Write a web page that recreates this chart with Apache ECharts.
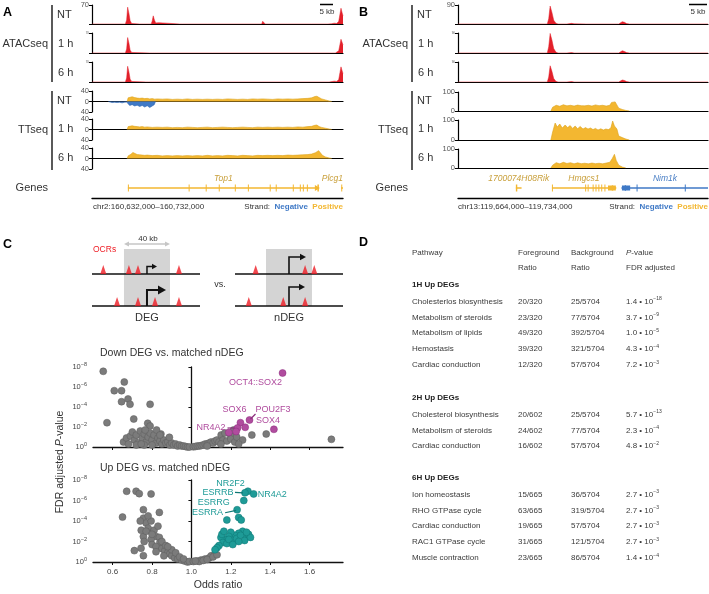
<!DOCTYPE html>
<html><head><meta charset="utf-8">
<script src="https://cdn.jsdelivr.net/npm/echarts@6/dist/echarts.min.js"></script>
<style>html,body{margin:0;padding:0;background:#fff}#c{width:709px;height:594px}</style>
</head><body><div id="c"></div>
<script>
// ================= DATA =================
// Panel A (kb from chr2:160,632,000)
const atacA_NT = [[0,0],[3,0],[3.5,1],[4.5,0],[13.3,0],[13.8,15],[14.2,62],[14.7,40],[15.2,12],[15.8,2],[16.5,0],[19,0],[19.5,2],[20.5,0],[21.3,0],[21.6,3],[22,0],[23.6,0],[24,12],[24.4,30],[24.9,14],[25.4,4],[26,9],[26.5,5],[27.2,0],[35,0],[35.5,1],[36,0],[46,0],[46.5,1],[47,0],[67.6,0],[68,10],[68.5,4],[69,0],[77,0],[77.5,1],[78,0],[86.5,0],[87,2],[87.5,0],[94,0],[94.5,2],[95.5,1],[96.5,3],[97.5,2],[98.3,10],[99.2,58],[99.7,40],[100,30]];
const atacA_1h = [[0,0],[13.3,0],[13.8,14],[14.2,54],[14.7,35],[15.2,10],[15.8,2],[16.5,0],[23,0],[23.5,2],[24,0],[24.5,3],[25,0],[25.8,0],[26.2,6],[26.7,0],[47,0],[47.5,1],[48,0],[67.6,0],[68,5],[68.5,0],[86.5,0],[87,1],[87.5,0],[94.5,0],[95,2],[95.5,0],[97,0],[97.5,3],[98.3,8],[99.2,48],[99.7,36],[100,28]];
const atacA_6h = [[0,0],[13.3,0],[13.8,14],[14.2,55],[14.7,36],[15.2,10],[15.8,2],[16.5,0],[21.5,0],[22,2],[22.5,0],[24,0],[24.4,3],[24.8,0],[25.8,0],[26.2,5],[26.7,0],[67.6,0],[68,5],[68.5,0],[94.5,0],[95,2],[96.5,3],[97.5,2],[98.3,9],[99.2,53],[99.7,38],[100,30]];
const ttA_NT_pos = [[14,0],[14.4,14],[15,21],[16,18],[17,15],[18,13],[19,12],[20,13],[21,11],[22,12],[23,10],[24,11],[25,9],[26,10],[28,9],[30,10],[32,8],[34,9],[36,8],[38,10],[40,8],[42,9],[44,8],[46,9],[48,8],[50,9],[52,8],[54,10],[56,9],[58,8],[60,9],[62,8],[64,10],[66,9],[68,10],[70,9],[72,8],[74,10],[76,9],[78,10],[80,9],[82,10],[84,11],[86,12],[87.5,14],[88.8,19],[89.6,20],[90.5,15],[91.5,10],[93,6],[94.5,2],[95.5,0]];
const ttA_NT_neg = [[6.5,0],[7,-3],[8,-4],[9,-3],[10,-4],[11,-3],[12,-5],[13,-3],[13.8,-2],[14.2,-9],[15,-15],[16,-12],[17,-17],[18,-14],[19,-19],[20,-15],[21,-21],[22,-16],[23,-23],[24,-17],[24.8,-12],[25.3,0]];
const ttA_1h_pos = [[14,0],[14.4,11],[15,16],[16,14],[17,12],[18,11],[19,10],[20,11],[21,9],[22,10],[24,8],[26,9],[28,8],[30,9],[32,7],[34,8],[36,7],[38,9],[40,8],[42,7],[44,8],[46,9],[48,7],[50,8],[52,9],[54,8],[56,7],[58,8],[60,9],[62,8],[64,7],[66,9],[68,8],[70,9],[72,8],[74,9],[76,8],[78,9],[80,8],[82,10],[84,9],[86,11],[87.5,12],[88.8,16],[89.6,17],[90.5,11],[91.5,8],[93,5],[94.5,2],[95.5,0]];
const ttA_6h_pos = [[14,0],[14.4,10],[15.5,16],[16.3,23],[17,18],[18,15],[19,14],[20,13],[21,12],[22,13],[24,11],[26,12],[28,10],[30,11],[32,10],[34,11],[36,10],[38,11],[40,10],[42,11],[44,10],[46,12],[48,10],[50,11],[52,10],[54,12],[56,11],[58,10],[60,12],[62,11],[64,10],[66,12],[68,11],[70,12],[72,11],[74,12],[76,11],[78,13],[80,12],[82,13],[84,14],[86,15],[87.5,17],[89,22],[90.3,30],[91,25],[91.8,12],[93,6],[94.5,2],[95.5,0]];
const geneNamesA = ['Top1','Plcg1'];
const geneStartA = [14.3, 99.2];
const geneEndA = [90.4, 100];
const geneStrandA = [1, 1];
const exonsA = [[[14.3,14.7],[38.5,38.7],[45.3,45.5],[50.5,50.7],[56.9,57.1],[62.1,62.3],[70.8,71.0],[73.2,73.4],[80.0,80.2],[82.8,83.0],[84.0,84.2],[85.6,85.8],[89.8,90.4]],[[99.3,99.6]]];

// Panel B (kb from chr13:119,664,000)
const atacB_NT = [[0,0],[25,0],[25.4,25],[25.8,85],[26.3,55],[26.8,18],[27.4,4],[28,0],[30.5,0],[31,2],[31.8,3],[32.5,1],[33,0],[36,0],[36.5,1],[37,0],[45,0],[45.5,6],[46,11],[46.6,8],[47.2,2],[48,0],[52,0],[52.5,1],[53,0],[64.5,0],[65,4],[65.5,0],[70,0]];
const atacB_1h = [[0,0],[25,0],[25.4,28],[25.8,88],[26.3,58],[26.8,20],[27.4,4],[28,0],[30.5,0],[31,2],[31.8,2],[32.5,0],[45,0],[45.5,6],[46,10],[46.6,7],[47.2,2],[48,0],[65,0],[65.5,2],[66,0],[70,0]];
const atacB_6h = [[0,0],[25,0],[25.4,22],[25.8,73],[26.3,48],[26.8,16],[27.4,3],[28,0],[30.5,0],[31,2],[31.8,2],[32.5,0],[45,0],[45.5,5],[46,9],[46.6,7],[47.2,2],[48,0],[65,0],[65.5,3],[66,0],[70,0]];
const ttB_NT = [[26,0],[26.5,20],[27.5,30],[28.5,25],[29.5,33],[30.5,27],[31.5,30],[32.5,26],[33.5,31],[34.5,28],[35.5,27],[36.5,30],[37.5,26],[38.5,32],[39.5,28],[40.5,30],[41.5,26],[42.5,30],[43,45],[44,48],[44.5,45],[45,15],[46,8],[47,3],[48,0]];
const ttB_1h = [[26,0],[26.5,40],[27.2,85],[27.8,65],[28.5,80],[29.2,60],[30,75],[30.7,62],[31.4,72],[32.1,58],[32.8,70],[33.5,56],[34.2,68],[35,55],[35.7,62],[36.4,55],[37.1,60],[37.8,52],[38.5,58],[39.2,50],[40,56],[40.7,50],[41.4,55],[42.1,52],[42.8,60],[43.3,95],[43.8,70],[44.5,55],[45,20],[46,12],[47,5],[48,0]];
const ttB_6h = [[26,0],[26.5,15],[27.5,28],[28.5,22],[29.5,30],[30.5,24],[31.5,28],[32.5,22],[33.5,27],[34.5,23],[35.5,25],[36.5,22],[37.5,26],[38.5,23],[39.5,25],[40.5,22],[41.5,26],[42.5,30],[43.2,50],[43.8,72],[44.3,40],[45,15],[46,5],[47,0]];
const geneNamesB = ['1700074H08Rik','Hmgcs1','Nim1k'];
const geneStartB = [16.2, 26.3, 45.9];
const geneEndB = [17.8, 44.2, 70];
const geneStrandB = [1, 1, -1];
const exonsB = [[[16.2,16.6]],[[26.3,26.5],[35.6,35.8],[36.3,36.5],[37.7,37.9],[38.5,38.7],[39.3,39.5],[40.1,40.3],[41.0,41.2],[42.0,44.2]],[[45.9,48.2],[50.0,50.2],[63.5,63.7]]];

// Panel C schematic (kb relative to TSS)
const ocrWindow = [-20, 20];
const degOcrTop = [-38, -15.7, -7.8, 27.8];
const degOcrBottom = [-26, -7.8, 7, 27.8];
const ndegOcrTop = [-29, 14, 22];
const ndegOcrBottom = [-35, -5, 14];

// Panel C volcano plots: [odds ratio, -log10 FDR]
const downGray = [[0.552,7.57],[0.571,2.43],[0.608,5.63],[0.645,5.63],[0.659,6.5],[0.645,4.53],[0.678,4.8],[0.688,4.27],[0.707,2.8],[0.79,4.27],[0.778,2.37],[0.79,2.1],
 [0.655,0.5],[0.67,0.9],[0.69,1.1],[0.70,1.5],[0.71,0.7],[0.72,1.2],[0.73,0.4],[0.74,1.6],[0.75,0.9],[0.76,1.3],[0.77,0.5],[0.78,1.0],[0.79,1.4],[0.80,0.7],[0.81,1.2],[0.82,0.4],[0.83,0.9],[0.84,0.6],[0.85,0.3],[0.86,0.7],[0.87,0.4],[0.88,0.5],[0.89,0.2],[0.90,0.4],[0.91,0.2],[0.92,0.3],[0.93,0.1],[0.94,0.2],[0.95,0.1],[0.96,0.1],[0.97,0.05],[0.98,0.0],[0.99,0.0],[0.68,0.3],[0.72,0.2],[0.76,0.2],[0.80,0.2],[0.845,1.3],[0.823,1.7],[0.765,1.7],[0.745,0.3],[0.888,0.97],[0.84,1.2],
 [1.01,0.02],[1.02,0.05],[1.03,0.1],[1.04,0.1],[1.05,0.15],[1.06,0.2],[1.07,0.3],[1.08,0.3],[1.09,0.4],[1.10,0.5],[1.11,0.4],[1.12,0.6],[1.13,0.7],[1.14,0.5],[1.151,1.2],[1.16,0.7],[1.17,1.4],[1.18,0.6],[1.2,1.1],[1.20,0.8],[1.214,1.7],[1.22,0.5],[1.23,1.0],[1.26,0.7],[1.307,1.2],[1.38,1.3],[1.711,0.77],[1.24,0.3],[1.15,0.3],[1.08,0.1]];
const downPurple = [[1.463,7.4],[1.419,1.77],[1.295,2.7],[1.249,2.43],[1.234,1.9],[1.273,1.97],[1.227,1.55],[1.19,1.45]];
const downLabelNames = ['OCT4::SOX2','SOX6','POU2F3','SOX4','NR4A2'];
const downLabelPoints = [[1.463,7.4],[1.249,2.43],[1.295,2.7],[1.419,1.77],[1.234,1.9]];
const upGray = [[0.65,4.38],[0.671,6.9],[0.719,6.9],[0.735,6.67],[0.795,6.64],[0.756,5.1],[0.837,4.84],[0.71,1.11],[0.744,1.34],[0.756,0.62],[0.756,2.48],
 [0.756,4.28],[0.77,3.8],[0.795,4.0],[0.78,3.3],[0.81,3.1],[0.745,3.1],[0.77,3.0],[0.82,2.5],[0.795,2.2],[0.837,2.4],[0.84,1.9],[0.80,1.7],[0.82,1.5],[0.85,1.3],[0.865,1.1],[0.88,0.9],[0.89,0.8],[0.90,0.6],[0.915,0.4],[0.93,0.3],[0.95,0.2],[0.965,0.1],[0.98,0.0],[0.76,2.0],[0.80,2.7],[0.83,3.5],[0.78,4.5],[0.74,4.0],[0.85,2.0],[0.87,1.6],[0.82,1.0],[0.86,0.6],[0.90,1.2],[0.88,1.5],[0.92,0.9],[0.94,0.5],[0.96,0.3],[0.99,0.05],
 [1.01,0.05],[1.03,0.1],[1.05,0.2],[1.07,0.3],[1.09,0.4],[1.10,0.6],[1.12,0.8],[1.04,0.05],[1.06,0.15],[1.08,0.25],[1.11,0.5],[1.13,0.7],[1.02,0.1]];
const upTeal = [[1.287,6.9],[1.272,6.75],[1.316,6.64],[1.266,6.0],[1.232,5.1],[1.18,4.1],[1.24,4.35],[1.253,4.1],
 [1.278,2.48],[1.26,3.0],[1.24,2.8],[1.22,2.6],[1.2,2.9],[1.19,2.5],[1.17,2.2],[1.15,2.4],[1.16,1.9],[1.14,1.6],[1.13,1.4],[1.12,1.2],[1.18,1.8],[1.21,2.1],[1.23,2.3],[1.25,2.6],[1.27,2.1],[1.29,2.7],[1.30,2.4],[1.24,2.0],[1.155,2.7],[1.165,3.0],[1.19,2.2],[1.21,1.7],[1.28,2.9]];
const upLabelNames = ['NR2F2','ESRRB','NR4A2','ESRRG','ESRRA'];
const upLabelPoints = [[1.287,6.9],[1.272,6.75],[1.316,6.64],[1.266,6.0],[1.232,5.1]];
const oddsTicks = [0.6,0.8,1.0,1.2,1.4,1.6];

// Panel D table
const groupTitles = ['1H Up DEGs','2H Up DEGs','6H Up DEGs'];
const pathways = [['Cholesterlos biosynthesis','Metabolism of steroids','Metabolism of lipids','Hemostasis','Cardiac conduction'],
  ['Cholesterol biosynthesis','Metabolism of steroids','Cardiac conduction'],
  ['Ion homeostasis','RHO GTPase cycle','Cardiac conduction','RAC1 GTPase cycle','Muscle contraction']];
const fgRatio = [['20/320','23/320','49/320','39/320','12/320'],['20/602','24/602','16/602'],['15/665','63/665','19/665','31/665','23/665']];
const bgRatio = [['25/5704','77/5704','392/5704','321/5704','57/5704'],['25/5704','77/5704','57/5704'],['36/5704','319/5704','57/5704','121/5704','86/5704']];
const pMant = [['1.4','3.7','1.0','4.3','7.2'],['5.7','2.3','4.8'],['2.7','2.7','2.7','2.7','1.4']];
const pExp = [[-18,-9,-5,-4,-3],[-13,-4,-2],[-3,-3,-3,-3,-4]];

// ================= STYLE / LAYOUT =================
const FONT = "'Liberation Sans', Arial, Helvetica, sans-serif";
const RED = '#e3202a', GOLD = '#f3b731', GOLD_EDGE = '#dca21c', BLUE = '#3f79c6', GENE_GOLD = '#c9a03c';
const PURPLE = '#b04c9e', TEAL = '#1e9b97';
const grids = [], xAxes = [], yAxes = [], series = [], graphics = [];
function addGrid(g, xa, ya) {
  grids.push(g); const gi = grids.length - 1;
  xa.gridIndex = gi; ya.gridIndex = gi; xAxes.push(xa); yAxes.push(ya);
  return { x: xAxes.length - 1, y: yAxes.length - 1, g: gi };
}
const hiddenAxis = (min, max) => ({ type: 'value', min, max, show: false });
function font(size, weight, style) { return (style || 'normal') + ' ' + (weight || 'normal') + ' ' + size + 'px ' + FONT; }
function txt(x, y, text, o) {
  o = o || {};
  return { type: 'text', silent: true, x: x, y: y, rotation: o.rot || 0, z: 100,
    style: { x: 0, y: 0, text: text, fill: o.fill || '#333', font: font(o.size || 11, o.weight, o.style),
      textAlign: o.align || 'left', textVerticalAlign: 'middle', rich: o.rich } };
}
function line(x1, y1, x2, y2, color, w) {
  return { type: 'line', silent: true, z: 100, shape: { x1, y1, x2, y2 }, style: { stroke: color || '#000', lineWidth: w || 1.2 } };
}
const axLine = { show: true, lineStyle: { color: '#000', width: 1.2 } };

function atacTrack(left, top, width, height, xmax, ymax, lblSize, data) {
  const ax = addGrid({ left, top, width, height },
    { type: 'value', min: 0, max: xmax, axisLine: axLine, axisTick: { show: false }, axisLabel: { show: false }, splitLine: { show: false } },
    { type: 'value', min: 0, max: ymax, interval: ymax, axisLine: axLine, axisTick: { show: true, length: 3, lineStyle: { color: '#000' } },
      axisLabel: { show: true, fontSize: lblSize, color: '#555', margin: 3, formatter: v => v === ymax ? String(ymax) : '' }, splitLine: { show: false } });
  series.push({ type: 'line', xAxisIndex: ax.x, yAxisIndex: ax.y, data, symbol: 'none', silent: true,
    lineStyle: { width: 0.5, color: RED }, areaStyle: { color: RED, opacity: 1 } });
}
function ttTrack(left, top, width, height, xmax, ymin, ymax, interval, pos, neg) {
  const ax = addGrid({ left, top, width, height },
    { type: 'value', min: 0, max: xmax, axisLine: Object.assign({ onZero: true }, axLine), axisTick: { show: false }, axisLabel: { show: false }, splitLine: { show: false } },
    { type: 'value', min: ymin, max: ymax, interval, axisLine: axLine, axisTick: { show: true, length: 3, lineStyle: { color: '#000' } },
      axisLabel: { show: true, fontSize: 7.5, color: '#555', margin: 3, formatter: v => String(Math.abs(v)) }, splitLine: { show: false } });
  series.push({ type: 'line', xAxisIndex: ax.x, yAxisIndex: ax.y, data: pos, symbol: 'none', silent: true, z: 3,
    lineStyle: { width: 0.6, color: GOLD_EDGE }, areaStyle: { color: GOLD, opacity: 1 } });
  if (neg) series.push({ type: 'line', xAxisIndex: ax.x, yAxisIndex: ax.y, data: neg, symbol: 'none', silent: true, z: 3,
    lineStyle: { width: 0.6, color: '#2f66b0' }, areaStyle: { color: BLUE, opacity: 1 } });
}
function geneTrack(left, top, width, height, xmax, names, starts, ends, strands, exons) {
  const ax = addGrid({ left, top, width, height },
    { type: 'value', min: 0, max: xmax, axisLine: { show: true, lineStyle: { color: '#000', width: 1.4 } }, axisTick: { show: false }, axisLabel: { show: false }, splitLine: { show: false } },
    { type: 'value', min: 0, max: 1, show: false });
  series.push({ type: 'custom', xAxisIndex: ax.x, yAxisIndex: ax.y, silent: true, clip: false,
    data: names.map((n, i) => [starts[i], ends[i], i]),
    renderItem: function (params, api) {
      const i = params.dataIndex;
      const col = strands[i] > 0 ? GOLD : BLUE;
      const tcol = strands[i] > 0 ? GENE_GOLD : '#4a7fc5';
      const s = api.coord([starts[i], 0.5]), e = api.coord([ends[i], 0.5]);
      const ch = [{ type: 'line', shape: { x1: s[0], y1: s[1], x2: e[0], y2: e[1] }, style: { stroke: col, lineWidth: 1.5 } }];
      exons[i].forEach(ex => {
        const a = api.coord([ex[0], 0.5]), b = api.coord([ex[1], 0.5]);
        const w = Math.max(1, b[0] - a[0]);
        const h = w > 2 ? 5 : 7;
        ch.push({ type: 'rect', shape: { x: a[0], y: a[1] - h / 2, width: w, height: h }, style: { fill: col } });
      });
      if (ends[i] - starts[i] > 5) {
        if (strands[i] > 0) ch.push({ type: 'polygon', shape: { points: [[e[0] + 1, e[1]], [e[0] - 4, e[1] - 3], [e[0] - 4, e[1] + 3]] }, style: { fill: col } });
        else ch.push({ type: 'polygon', shape: { points: [[s[0] - 1, s[1]], [s[0] + 4, s[1] - 3], [s[0] + 4, s[1] + 3]] }, style: { fill: col } });
      }
      const gridRight = api.coord([xmax, 0])[0];
      const nearEdge = ends[i] >= xmax - 1.5 && (ends[i] - starts[i]) < 3;
      ch.push({ type: 'text', style: { text: names[i], x: nearEdge ? gridRight : (s[0] + e[0]) / 2, y: s[1] - 9,
        fill: tcol, font: font(8.5, 'normal', 'italic'), textAlign: nearEdge ? 'right' : 'center', textVerticalAlign: 'middle' } });
      return { type: 'group', children: ch };
    } });
}

// ---- Panel A tracks ----
atacTrack(92, 5, 251, 19, 100, 70, 7.5, atacA_NT);
atacTrack(92, 33, 251, 20, 100, 70, 3, atacA_1h);
atacTrack(92, 62, 251, 20, 100, 70, 3, atacA_6h);
ttTrack(92, 91, 251, 21, 100, -40, 40, 40, ttA_NT_pos, ttA_NT_neg);
ttTrack(92, 119, 251, 21, 100, -40, 40, 40, ttA_1h_pos, null);
ttTrack(92, 148, 251, 21, 100, -40, 40, 40, ttA_6h_pos, null);
geneTrack(92, 178, 251, 20, 100, geneNamesA, geneStartA, geneEndA, geneStrandA, exonsA);
// ---- Panel B tracks ----
atacTrack(458, 5, 250, 19, 70, 90, 7.5, atacB_NT);
atacTrack(458, 33, 250, 20, 70, 90, 3, atacB_1h);
atacTrack(458, 62, 250, 20, 70, 90, 3, atacB_6h);
ttTrack(458, 92, 250, 19, 70, 0, 100, 100, ttB_NT, null);
ttTrack(458, 120, 250, 20, 70, 0, 100, 100, ttB_1h, null);
ttTrack(458, 149, 250, 19, 70, 0, 100, 100, ttB_6h, null);
geneTrack(458, 178, 250, 20, 70, geneNamesB, geneStartB, geneEndB, geneStrandB, exonsB);

// ---- Panel C schematic ----
const SCH_YMAX = 57 / 32;
const tssArrowSizes = { deg: [{ h: 7.5, len: 10, head: 5, w: 1.5 }, { h: 16, len: 19, head: 8, w: 2 }],
                        ndeg: [{ h: 17, len: 17, head: 6, w: 1.6 }, { h: 19, len: 16, head: 6, w: 1.6 }] };
function schematic(left, xmin, xmax, ocrTop, ocrBottom, sizes, showScale) {
  const ax = addGrid({ left, top: 249, width: 108, height: 57 }, hiddenAxis(xmin, xmax), hiddenAxis(0, SCH_YMAX));
  series.push({ type: 'custom', xAxisIndex: ax.x, yAxisIndex: ax.y, silent: true, clip: false, z: 1,
    data: [ocrWindow], renderItem: function (params, api) {
      const a = api.coord([ocrWindow[0], 0]), b = api.coord([ocrWindow[1], SCH_YMAX]);
      const ch = [{ type: 'rect', shape: { x: a[0], y: b[1], width: b[0] - a[0], height: a[1] - b[1] }, style: { fill: '#d4d4d4' } }];
      if (showScale) {
        const y = b[1] - 5, c = '#c6c6c6';
        ch.push({ type: 'line', shape: { x1: a[0] + 2, y1: y, x2: b[0] - 2, y2: y }, style: { stroke: c, lineWidth: 1.3 } });
        ch.push({ type: 'polygon', shape: { points: [[a[0], y], [a[0] + 5, y - 2.5], [a[0] + 5, y + 2.5]] }, style: { fill: c } });
        ch.push({ type: 'polygon', shape: { points: [[b[0], y], [b[0] - 5, y - 2.5], [b[0] - 5, y + 2.5]] }, style: { fill: c } });
      }
      return { type: 'group', children: ch };
    } });
  series.push({ type: 'custom', xAxisIndex: ax.x, yAxisIndex: ax.y, silent: true, clip: false, z: 2,
    data: [[xmin, xmax, 1], [xmin, xmax, 0]], renderItem: function (params, api) {
      const a = api.coord([api.value(0), api.value(2)]), b = api.coord([api.value(1), api.value(2)]);
      return { type: 'line', shape: { x1: a[0], y1: a[1], x2: b[0], y2: b[1] }, style: { stroke: '#111', lineWidth: 1.6 } };
    } });
  series.push({ type: 'scatter', xAxisIndex: ax.x, yAxisIndex: ax.y, silent: true, z: 3, symbol: 'triangle', symbolSize: [6, 9], symbolOffset: [0, -4.5],
    itemStyle: { color: '#ee1c24' }, data: ocrTop.map(v => [v, 1]).concat(ocrBottom.map(v => [v, 0])) });
  series.push({ type: 'custom', xAxisIndex: ax.x, yAxisIndex: ax.y, silent: true, clip: false, z: 4,
    data: [[0, 1], [0, 0]], renderItem: function (params, api) {
      const s = sizes[params.dataIndex];
      const p = api.coord([api.value(0), api.value(1)]);
      const top = p[1] - s.h, endX = p[0] + s.len;
      return { type: 'group', children: [
        { type: 'polyline', shape: { points: [[p[0], p[1]], [p[0], top], [endX - s.head * 0.6, top]] }, style: { stroke: '#111', lineWidth: s.w, fill: null } },
        { type: 'polygon', shape: { points: [[endX, top], [endX - s.head, top - s.head * 0.55], [endX - s.head, top + s.head * 0.55]] }, style: { fill: '#111' } }] };
    } });
}
schematic(92, -47.8, 46.1, degOcrTop, degOcrBottom, tssArrowSizes.deg, true);
schematic(235, -47, 47, ndegOcrTop, ndegOcrBottom, tssArrowSizes.ndeg, false);

// ---- Panel C volcano plots ----
const supRich = { b: { fontSize: 7.5, color: '#444', fontFamily: FONT }, s: { fontSize: 5.5, color: '#444', fontFamily: FONT, padding: [0, 0, 5, 0] } };
const downLabelLayout = [{ dx: -27, dy: 10, align: 'center' }, { dx: -6, dy: -13, align: 'center' }, { dx: 6, dy: -10, align: 'left', ln: [1, -1, 6, -6] },
  { dx: -6, dy: -9, align: 'center' }, { dx: -12, dy: 0, align: 'right', ln: [-10, 0, -3, 0] }];
const upLabelLayout = [{ dx: -17.5, dy: -7.6, align: 'center' }, { dx: -11.5, dy: 0, align: 'right', ln: [-10, -0.5, -2, 0] }, { dx: 4, dy: 1, align: 'left' },
  { dx: -30, dy: 2.5, align: 'center' }, { dx: -14, dy: 3, align: 'right', ln: [-12, 3, -1, 0.7] }];
function volcano(top, height, showX, gray, colored, color, border, names, pts, layout) {
  const xa = { type: 'value', min: 0.5, max: 1.77, axisLine: { show: true, onZero: false, lineStyle: { color: '#111', width: 1.3 } },
    axisTick: { show: true, length: 3, customValues: oddsTicks, lineStyle: { color: '#111' } },
    axisLabel: { show: showX, customValues: oddsTicks, fontSize: 8, color: '#444', margin: 6, formatter: v => v.toFixed(1) }, splitLine: { show: false } };
  const ya = { type: 'value', min: 0, max: 8, interval: 2, axisLine: { show: false }, axisTick: { show: false }, splitLine: { show: false },
    axisLabel: { show: true, margin: 6, formatter: v => '{b|10}{s|' + (v === 0 ? '0' : '\u2212' + v) + '}', rich: supRich } };
  const ax = addGrid({ left: 93, top, width: 250, height }, xa, ya);
  yAxes.push({ type: 'value', gridIndex: ax.g, min: 0, max: 8, interval: 2, position: 'left', offset: -(1 - 0.5) / 1.27 * 250,
    axisLine: { show: true, lineStyle: { color: '#111', width: 1.3 } }, axisTick: { show: true, length: 3, lineStyle: { color: '#111' } },
    axisLabel: { show: false }, splitLine: { show: false } });
  series.push({ type: 'scatter', xAxisIndex: ax.x, yAxisIndex: ax.y, data: gray, symbolSize: 7, silent: true, z: 3,
    itemStyle: { color: '#7b7b7b', borderColor: '#5c5c5c', borderWidth: 0.5, opacity: 1 } });
  series.push({ type: 'scatter', xAxisIndex: ax.x, yAxisIndex: ax.y, data: colored, symbolSize: 7, silent: true, z: 4,
    itemStyle: { color: color, borderColor: border, borderWidth: 0.5, opacity: 1 } });
  series.push({ type: 'custom', xAxisIndex: ax.x, yAxisIndex: ax.y, data: pts, silent: true, clip: false, z: 5,
    renderItem: function (params, api) {
      const L = layout[params.dataIndex];
      const p = api.coord([api.value(0), api.value(1)]);
      const ch = [{ type: 'text', style: { text: names[params.dataIndex], x: p[0] + L.dx, y: p[1] + L.dy, fill: color,
        font: font(9), textAlign: L.align, textVerticalAlign: 'middle' } }];
      if (L.ln) ch.push({ type: 'line', shape: { x1: p[0] + L.ln[0], y1: p[1] + L.ln[1], x2: p[0] + L.ln[2], y2: p[1] + L.ln[3] }, style: { stroke: border, lineWidth: 1.2 } });
      return { type: 'group', children: ch };
    } });
}
volcano(367, 80, false, downGray, downPurple, PURPLE, '#8d2f7e', downLabelNames, downLabelPoints, downLabelLayout);
volcano(480, 82, true, upGray, upTeal, TEAL, '#0f7774', upLabelNames, upLabelPoints, upLabelLayout);

// ================= TEXT / ANNOTATIONS =================
graphics.push(txt(3, 13, 'A', { size: 12.5, weight: 'bold', fill: '#000' }));
graphics.push(txt(359, 13, 'B', { size: 12.5, weight: 'bold', fill: '#000' }));
graphics.push(txt(3, 245, 'C', { size: 12.5, weight: 'bold', fill: '#000' }));
graphics.push(txt(359, 243, 'D', { size: 12.5, weight: 'bold', fill: '#000' }));
[[0, 52, 92], [366, 412, 458]].forEach(([tx, bx, ax], k) => {
  const right = bx - 4;
  graphics.push(line(bx, 5, bx, 82, '#000', 1.3));
  graphics.push(line(bx, 91, bx, 170, '#000', 1.3));
  graphics.push(txt(right, 44, 'ATACseq', { size: 11, align: 'right' }));
  graphics.push(txt(right, 130, 'TTseq', { size: 11, align: 'right' }));
  graphics.push(txt(right, 188, 'Genes', { size: 11, align: 'right' }));
  graphics.push(txt(bx + 5, 15, 'NT', { size: 11 }));
  graphics.push(txt(bx + 6, 44, '1 h', { size: 11 }));
  graphics.push(txt(bx + 6, 73, '6 h', { size: 11 }));
  graphics.push(txt(bx + 5, 101, 'NT', { size: 11 }));
  graphics.push(txt(bx + 6, 129, '1 h', { size: 11 }));
  graphics.push(txt(bx + 6, 158, '6 h', { size: 11 }));
});
graphics.push(line(320, 4.5, 333, 4.5, '#000', 1.5));
graphics.push(txt(327, 11.5, '5 kb', { size: 8, align: 'center' }));
graphics.push(line(689, 4.5, 707, 4.5, '#000', 1.5));
graphics.push(txt(698, 11.5, '5 kb', { size: 8, align: 'center' }));
const strandRich = { n: { fill: BLUE, fontWeight: 'bold', fontSize: 8, fontFamily: FONT }, p: { fill: GOLD, fontWeight: 'bold', fontSize: 8, fontFamily: FONT }, t: { fill: '#333', fontSize: 8, fontFamily: FONT } };
graphics.push(txt(93, 207, 'chr2:160,632,000\u2013160,732,000', { size: 8 }));
graphics.push(txt(343, 207, '{t|Strand:  }{n|Negative}{t|  }{p|Positive}', { size: 8, align: 'right', rich: strandRich }));
graphics.push(txt(458, 207, 'chr13:119,664,000\u2013119,734,000', { size: 8 }));
graphics.push(txt(708, 207, '{t|Strand:  }{n|Negative}{t|  }{p|Positive}', { size: 8, align: 'right', rich: strandRich }));
// Panel C texts
graphics.push(txt(148, 239, '40 kb', { size: 8, align: 'center' }));
graphics.push(txt(93, 250, 'OCRs', { size: 8.5, fill: '#ee1c24' }));
graphics.push(txt(220, 285, 'vs.', { size: 9, align: 'center' }));
graphics.push(txt(147, 318, 'DEG', { size: 11, align: 'center' }));
graphics.push(txt(289, 318, 'nDEG', { size: 11, align: 'center' }));
graphics.push(txt(100, 353, 'Down DEG vs. matched nDEG', { size: 10.5 }));
graphics.push(txt(100, 468, 'Up DEG vs. matched nDEG', { size: 10.5 }));
graphics.push(txt(218, 585, 'Odds ratio', { size: 10.5, align: 'center' }));
graphics.push(txt(60, 462, 'FDR adjusted {i|P}-value', { size: 10.5, align: 'center', rot: Math.PI / 2,
  rich: { i: { fontStyle: 'italic', fontSize: 10.5, fontFamily: FONT, fill: '#333' } } }));
// Panel D table
const colX = [412, 518, 571, 626];
const tcol = '#3a3a3a';
graphics.push(txt(colX[0], 253, 'Pathway', { size: 8, fill: tcol }));
graphics.push(txt(colX[1], 253, 'Foreground', { size: 8, fill: tcol }));
graphics.push(txt(colX[2], 253, 'Background', { size: 8, fill: tcol }));
graphics.push(txt(colX[3], 253, '{i|P}-value', { size: 8, fill: tcol, rich: { i: { fontStyle: 'italic', fontSize: 8, fontFamily: FONT, fill: tcol } } }));
graphics.push(txt(colX[1], 268, 'Ratio', { size: 8, fill: tcol }));
graphics.push(txt(colX[2], 268, 'Ratio', { size: 8, fill: tcol }));
graphics.push(txt(colX[3], 268, 'FDR adjusted', { size: 8, fill: tcol }));
const groupY = [285, 398, 478];
const pRich = { b: { fontSize: 8, fontFamily: FONT, fill: tcol }, s: { fontSize: 5, fontFamily: FONT, fill: tcol, padding: [0, 0, 5, 0] } };
groupTitles.forEach((g, k) => {
  graphics.push(txt(colX[0], groupY[k], g, { size: 8, weight: 'bold', fill: '#222' }));
  pathways[k].forEach((p, i) => {
    const y = groupY[k] + 16.5 + i * 15.8;
    graphics.push(txt(colX[0], y, p, { size: 8, fill: tcol }));
    graphics.push(txt(colX[1], y, fgRatio[k][i], { size: 8, fill: tcol }));
    graphics.push(txt(colX[2], y, bgRatio[k][i], { size: 8, fill: tcol }));
    graphics.push(txt(colX[3], y, '{b|' + pMant[k][i] + ' \u2022 10}{s|\u2212' + Math.abs(pExp[k][i]) + '}', { size: 8, fill: tcol, rich: pRich }));
  });
});

const chart = echarts.init(document.getElementById('c'), null, { renderer: 'canvas' });
chart.setOption({ animation: false, backgroundColor: '#fff', textStyle: { fontFamily: FONT },
  grid: grids, xAxis: xAxes, yAxis: yAxes, series: series, graphic: { elements: graphics } });
</script></body></html>
